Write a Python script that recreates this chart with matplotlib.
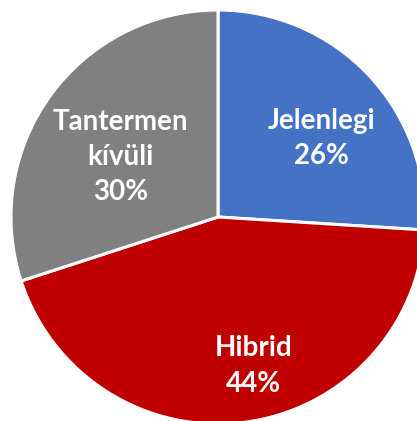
import matplotlib.pyplot as plt

labels = ['Jelenlegi', 'Hibrid', 'Tantermen\nkívüli']
values = [26, 44, 30]
colors = ['#4472C4', '#C00000', '#808080']
# label positions (in pie radius units), roughly like Excel's "best fit"
label_pos = [(0.50, 0.38), (0.17, -0.72), (-0.47, 0.29)]

fig = plt.figure(figsize=(4.17, 4.21), dpi=100)
ax = fig.add_axes([0, 0, 1, 1])

R = 207  # radius in pixels
cx, cy = 218, 217  # centre in pixels from top-left
ax.pie(values, colors=colors, startangle=90, counterclock=False, radius=1,
       wedgeprops=dict(edgecolor='white', linewidth=2.2))

for lab, v, (x, y) in zip(labels, values, label_pos):
    ax.text(x, y, f'{lab}\n{v}%', ha='center', va='center', color='white',
            fontsize=20, fontweight='bold', family=['Lato', 'DejaVu Sans'],
            linespacing=1.45)

ax.set_xlim(-cx / R, (417 - cx) / R)
ax.set_ylim(-(421 - cy) / R, cy / R)
ax.set_aspect('equal')
ax.axis('off')

fig.savefig('out.png', dpi=100)
